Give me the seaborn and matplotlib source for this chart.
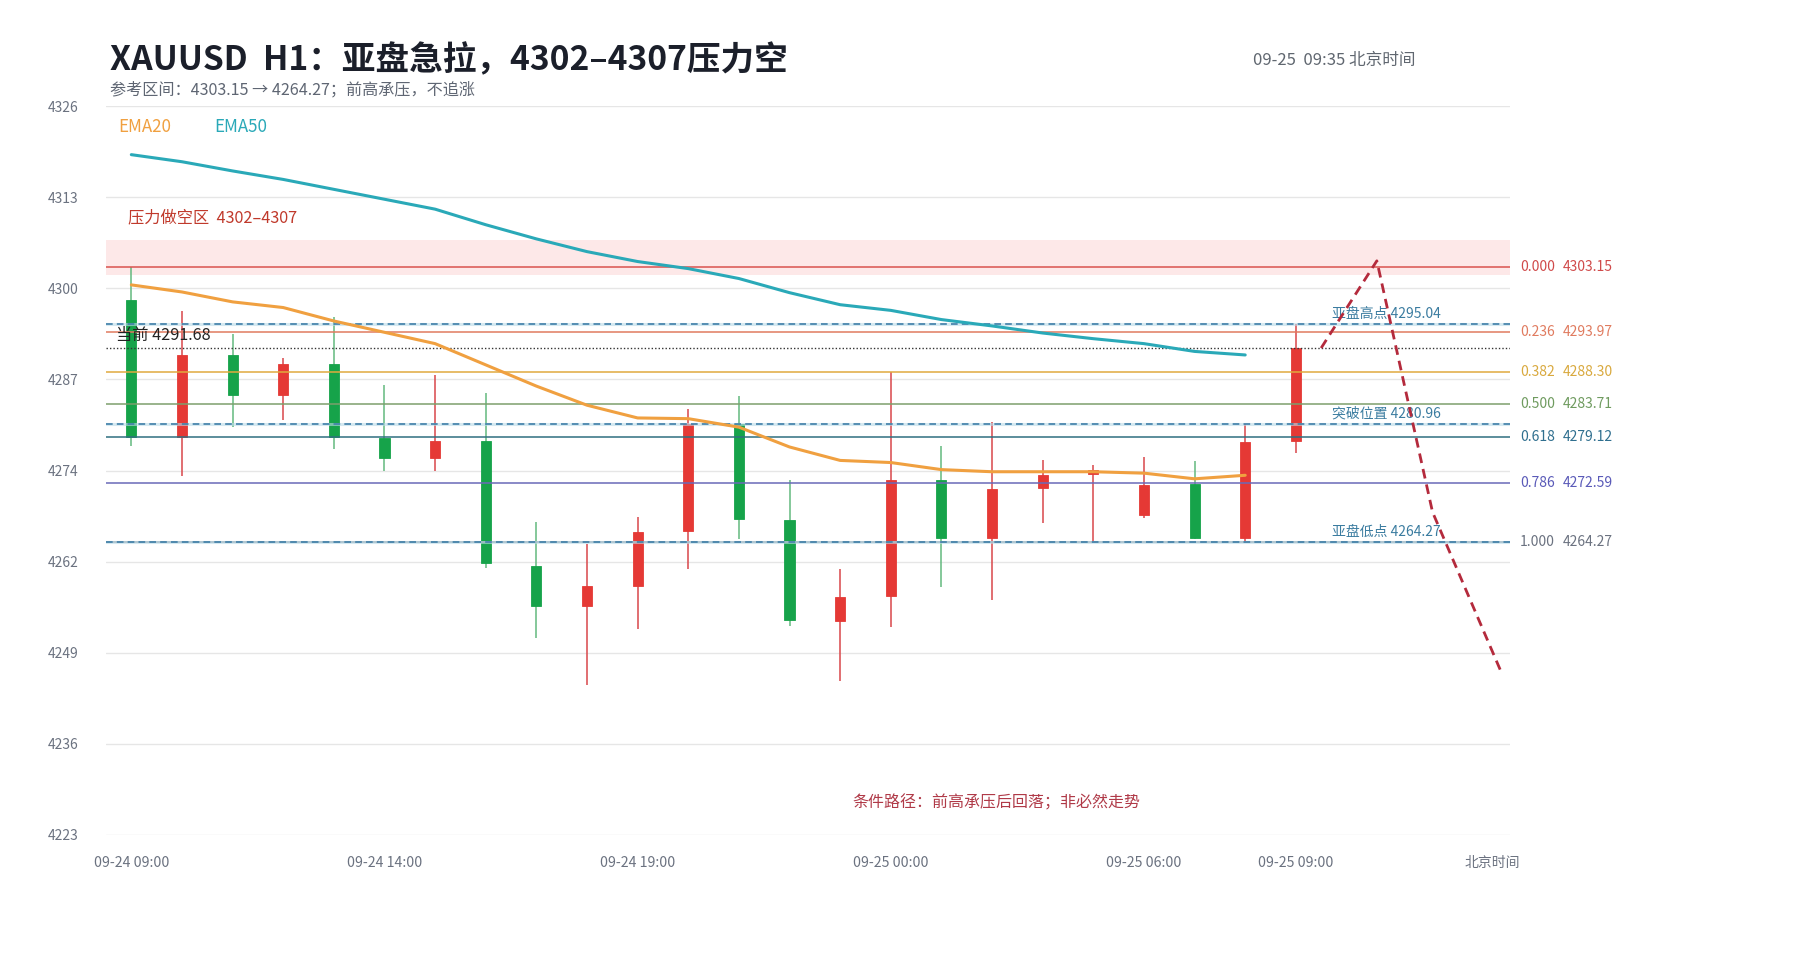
import numpy as np
import pandas as pd
import matplotlib
matplotlib.use("Agg")
import matplotlib.pyplot as plt
import seaborn as sns

# ---------------- data ----------------
times = ["09-24 09:00", "09-24 10:00", "09-24 11:00", "09-24 12:00", "09-24 13:00",
         "09-24 14:00", "09-24 15:00", "09-24 16:00", "09-24 17:00", "09-24 18:00",
         "09-24 19:00", "09-24 20:00", "09-24 21:00", "09-24 22:00", "09-24 23:00",
         "09-25 00:00", "09-25 01:00", "09-25 02:00", "09-25 03:00", "09-25 04:00",
         "09-25 06:00", "09-25 07:00", "09-25 08:00", "09-25 09:00"]
opens = [4298.4, 4279.1, 4290.7, 4285.0, 4289.4, 4279.0, 4276.2, 4278.5, 4260.9, 4255.3,
         4258.0, 4265.8, 4281.0, 4267.4, 4253.1, 4256.6, 4273.0, 4264.8, 4271.9, 4273.9,
         4268.1, 4272.5, 4264.8, 4278.5]
highs = [4303.15, 4296.9, 4293.7, 4290.2, 4296.1, 4286.5, 4287.8, 4285.3, 4267.1, 4264.0,
         4267.8, 4283.1, 4284.9, 4273.1, 4260.4, 4288.3, 4277.8, 4281.2, 4275.8, 4275.1,
         4276.3, 4275.7, 4281.0, 4295.04]
lows = [4277.8, 4273.6, 4280.5, 4281.5, 4277.4, 4274.3, 4274.3, 4260.6, 4250.7, 4244.1,
        4252.0, 4260.4, 4264.7, 4252.4, 4244.6, 4252.3, 4257.9, 4256.1, 4266.9, 4264.3,
        4267.7, 4264.7, 4264.27, 4276.9]
closes = [4279.1, 4290.7, 4285.0, 4289.4, 4279.1, 4276.2, 4278.5, 4261.3, 4255.3, 4258.1,
          4265.7, 4281.0, 4267.5, 4253.2, 4256.5, 4273.1, 4264.8, 4271.8, 4273.7, 4274.5,
          4272.3, 4264.8, 4278.4, 4291.68]
ema20 = [4300.6, 4299.6, 4298.2, 4297.4, 4295.5, 4293.9, 4292.3, 4289.3, 4286.3, 4283.6,
         4281.8, 4281.7, 4280.5, 4277.7, 4275.8, 4275.5, 4274.5, 4274.2, 4274.2, 4274.2,
         4274.0, 4273.2, 4273.7]
ema50 = [4319.0, 4318.0, 4316.7, 4315.5, 4314.1, 4312.7, 4311.3, 4309.1, 4307.1, 4305.3,
         4303.9, 4302.9, 4301.5, 4299.5, 4297.8, 4297.0, 4295.7, 4294.8, 4293.8, 4293.0,
         4292.3, 4291.2, 4290.7]
fib_ratios = ["0.000", "0.236", "0.382", "0.500", "0.618", "0.786", "1.000"]
fib_values = [4303.15, 4293.97, 4288.30, 4283.71, 4279.12, 4272.59, 4264.27]
key_names = ["亚盘高点", "突破位置", "亚盘低点"]
key_values = [4295.04, 4280.96, 4264.27]
current_price = 4291.68
zone_low, zone_high = 4302, 4307
path_pos = [23.5, 24.6, 25.7, 27.05]
path_values = [4291.68, 4304.0, 4268.5, 4246.0]
ytick_labels = ["4223", "4236", "4249", "4262", "4274", "4287", "4300", "4313", "4326"]
xtick_labels = ["09-24 09:00", "09-24 14:00", "09-24 19:00", "09-25 00:00", "09-25 06:00", "09-25 09:00"]

# ---------------- style ----------------
sns.set_theme(style="white")
plt.rcParams['font.family'] = ['Noto Sans CJK SC', 'DejaVu Sans']
plt.rcParams['axes.unicode_minus'] = False

W, H = 1800, 960
fig = plt.figure(figsize=(W / 100, H / 100), dpi=100)
fig.patch.set_facecolor("white")
L, R, T, B = 106, 1510, 106, 835
ax = fig.add_axes([L / W, 1 - B / H, (R - L) / W, (B - T) / H])
ax.set_facecolor("white")

ymin, ymax = 4222.875, 4325.875
ax.set_ylim(ymin, ymax)
ax.set_xlim(-0.5, 27.23)

yt = np.linspace(ymin, ymax, 9)
ax.set_yticks(yt)
ax.set_yticklabels(ytick_labels)
for y in yt:
    ax.axhline(y, color="#e6e6e6", lw=1.0, zorder=0)

xpos = [times.index(t) for t in xtick_labels]
ax.set_xticks(xpos)
ax.set_xticklabels(xtick_labels)
ax.tick_params(axis="x", length=0, pad=15, labelsize=10.2, labelcolor="#6b7280")
ax.tick_params(axis="y", length=0, pad=20, labelsize=10, labelcolor="#6b7280")
for s in ax.spines.values():
    s.set_visible(False)

# pressure zone
ax.axhspan(zone_low, zone_high, color="#fde6e6", alpha=0.9, zorder=0.5, lw=0)

# candles
x = np.arange(len(times))
o = np.array(opens); c = np.array(closes); hi = np.array(highs); lo = np.array(lows)
up = c >= o
body_col = np.where(up, "#e53935", "#16a34a")
wick_col = np.where(up, "#d9474a", "#63b97f")
ax.vlines(x, lo, hi, colors=wick_col, lw=1.1, zorder=2)
bh = np.maximum(np.abs(c - o), 0.35)
ax.bar(x, bh, bottom=np.minimum(o, c), width=0.2, color=body_col, edgecolor=body_col,
       lw=0.6, zorder=3)

# fib lines
fib_line_cols = ["#d9534f", "#e07a5f", "#e0aa3e", "#7d9f6c", "#2f6f80", "#6a6ab8", "#8a8f99"]
fib_lab_cols = ["#d04a4a", "#e07b5f", "#d9a93e", "#6f9b5f", "#2f6f8f", "#5a5ab8", "#6b7280"]
ytr = ax.get_yaxis_transform()
for r, v, lc, tc in zip(fib_ratios, fib_values, fib_line_cols, fib_lab_cols):
    ax.axhline(v, color=lc, lw=1.1, zorder=4)
    ax.text(1.0071, v, r, transform=ytr, ha="left", va="center", fontsize=10, color=tc, clip_on=False)
    ax.text(1.0378, v, f"{v:.2f}", transform=ytr, ha="left", va="center", fontsize=10, color=tc, clip_on=False)

# key dashed levels
for n, v in zip(key_names, key_values):
    ax.axhline(v, color="#b9dbe8", lw=2.2, zorder=4.1, alpha=0.6)
    ax.axhline(v, color="#3f7fa8", lw=1.2, ls=(0, (4, 2.5)), zorder=4.2)
    ax.text(23.72, v + 1.45, f"{n} {v:.2f}", ha="left", va="center", fontsize=10,
            color="#3b7ca0", zorder=6)

# current price
ax.axhline(current_price, color="#333333", lw=1.0, ls=(0, (1, 1.5)), zorder=4.3)
ax.text(-0.3, 4293.5, f"当前 {current_price:.2f}", ha="left", va="center", fontsize=11.7,
        color="#222222", zorder=6)

# EMAs
sns.lineplot(x=x[:len(ema20)], y=ema20, ax=ax, color="#f0a040", lw=2.2, zorder=5)
sns.lineplot(x=x[:len(ema50)], y=ema50, ax=ax, color="#2aa9b8", lw=2.2, zorder=5)

# conditional path
sns.lineplot(x=path_pos, y=path_values, ax=ax, color="#b42a3c", lw=2.0,
             linestyle=(0, (3.5, 2.2)), zorder=6)
ax.set_xlabel(""); ax.set_ylabel("")

ax.text(-0.07, 4310.1, "压力做空区  4302–4307", ha="left", va="center", fontsize=11.7,
        color="#c0392b", zorder=6)

# texts in figure space
def ft(px, py, s, **kw):
    fig.text(px / W, 1 - py / H, s, **kw)

ft(110, 70, "XAUUSD  H1：亚盘急拉，4302–4307压力空", fontsize=24.2, fontweight="bold",
   color="#1b1f2a", ha="left", va="baseline")
ft(110, 90, "参考区间：4303.15 → 4264.27；前高承压，不追涨", fontsize=11.6, color="#5f6673",
   ha="left", va="center")
ft(1253, 60, "09-25  09:35 北京时间", fontsize=12, color="#606770", ha="left", va="center")
ft(118, 127, "EMA20", fontsize=12.2, color="#f0a040", ha="left", va="center")
ft(214, 127, "EMA50", fontsize=12.2, color="#2aa9b8", ha="left", va="center")
ft(852, 803, "条件路径：前高承压后回落；非必然走势", fontsize=11.5, color="#b03a48",
   ha="left", va="center")
ft(1492, 863, "北京时间", fontsize=10, color="#6b7280", ha="center", va="center")

fig.savefig("out.png", dpi=100, facecolor="white")
